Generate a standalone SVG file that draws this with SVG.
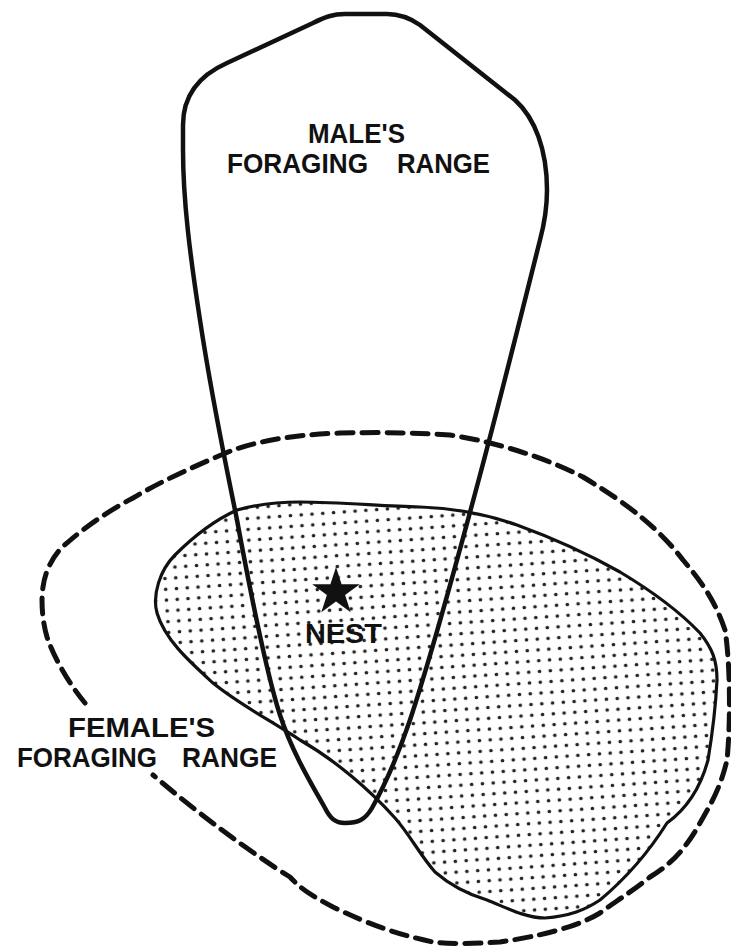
<svg xmlns="http://www.w3.org/2000/svg" width="731" height="947" viewBox="0 0 731 947">
<style>
.ol{stroke:#111;stroke-linejoin:round;stroke-linecap:round}
.nofill{fill:none}
.lbl{font-family:"Liberation Sans",Arial,sans-serif;font-size:28px;font-weight:bold;fill:#111}
</style>
<defs>
<pattern id="dots" width="10.8" height="10.8" patternUnits="userSpaceOnUse" patternTransform="rotate(-4)">
<rect width="10.8" height="10.8" fill="#fff"/>
<circle cx="5.4" cy="5.4" r="1.8" fill="#222"/>
</pattern>
</defs>
<rect width="731" height="947" fill="#fff"/>
<g id="nest-area">
<path d="M237,510 C255,505 280,502 300,502 C340,502 380,506 420,507 C450,508 480,512 517,525 C550,537 590,555 620,572 C650,590 680,612 700,633 C712,648 717,660 717,680 C716,700 713,730 708,760 C700,790 685,810 667,823 C650,850 630,875 600,900 C585,910 570,916 545,918 C525,918 505,907 487,900 C470,895 450,885 435,872 C420,855 410,835 395,818 C370,790 335,760 300,740 C270,720 240,705 213,683 C190,662 165,640 157,613 C152,595 160,570 175,555 C195,535 215,520 237,510 Z" fill="url(#dots)" class="ol" stroke-width="3.2"/>
</g>
<g id="female-range">
<path d="M85,703 C70,685 55,660 47,637 C42,620 41,600 43,587 C46,565 58,550 67,543 C85,527 110,510 133,498 C160,482 190,468 233,450 C260,441 290,435 340,433 C380,432 420,433 450,435 C490,441 540,455 583,477 C630,505 660,530 683,560 C700,580 715,600 725,630 C730,660 731,720 727,760 C720,790 710,805 700,823 C685,850 670,865 650,877 C630,893 610,905 600,913 C585,922 560,933 500,942 C470,944 450,944 433,942 C400,935 370,925 333,907 C310,895 300,888 290,877 C250,852 200,815 153,775" class="ol nofill" stroke-width="5" stroke-dasharray="16 9" stroke-linecap="butt"/>
</g>
<g id="male-range">
<path d="M325,808 C312,785 292,752 280,715 C268,678 250,590 237,520 C228,475 212,400 200,320 C190,255 183,200 183,150 L183,125 C183,95 200,75 227,63 L313,23 C325,17 333,14 345,14 L387,14 C400,14 410,18 420,25 L515,100 C535,118 547,150 547,190 C547,210 544,225 540,240 C525,300 500,400 480,475 C460,550 430,660 410,720 C398,755 385,785 372,808 C365,820 358,823 345,823 C335,823 330,818 325,808 Z" class="ol nofill" stroke-width="4.5"/>
</g>
<g id="nest">
<polygon points="336,567 341.6,584.3 359.8,584.3 345.1,595 350.7,612.2 336,601.6 321.3,612.2 326.9,595 312.2,584.3 330.4,584.3" fill="#111"/>
<text class="lbl" x="305" y="643" textLength="77" lengthAdjust="spacingAndGlyphs">NEST</text>
</g>
<g id="male-label">
<text class="lbl" x="308" y="143" textLength="97" lengthAdjust="spacingAndGlyphs">MALE'S</text>
<text class="lbl" x="227" y="173" textLength="141" lengthAdjust="spacingAndGlyphs">FORAGING</text>
<text class="lbl" x="397" y="173" textLength="93" lengthAdjust="spacingAndGlyphs">RANGE</text>
</g>
<g id="female-label">
<text class="lbl" x="68" y="737" textLength="147" lengthAdjust="spacingAndGlyphs">FEMALE'S</text>
<text class="lbl" x="17" y="767" textLength="140" lengthAdjust="spacingAndGlyphs">FORAGING</text>
<text class="lbl" x="182" y="767" textLength="95" lengthAdjust="spacingAndGlyphs">RANGE</text>
</g>
<g id="connectors"/>
</svg>
